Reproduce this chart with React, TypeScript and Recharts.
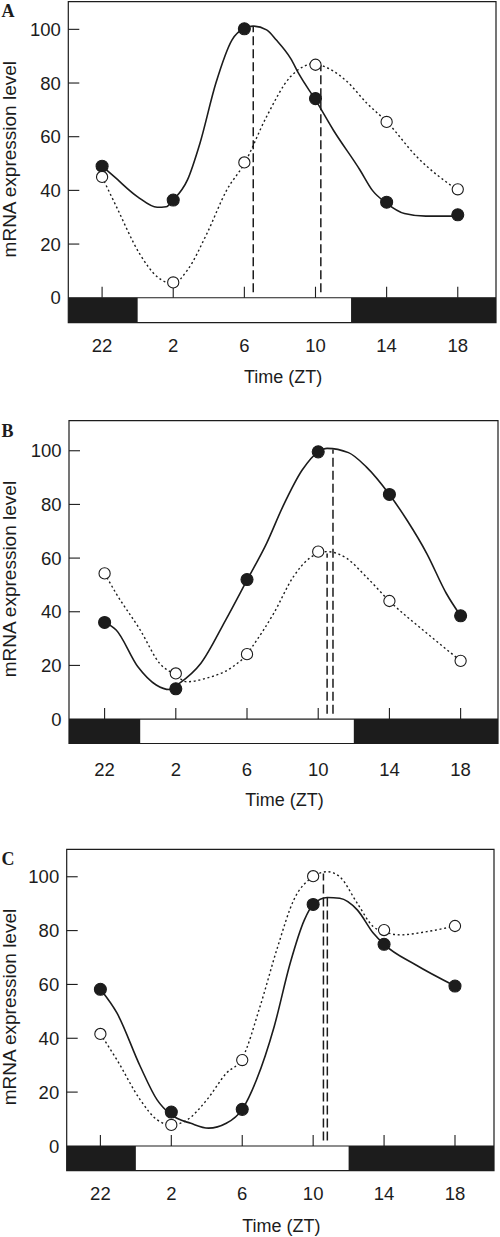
import React from 'react';
import { ComposedChart, Line, Scatter, XAxis, YAxis, ReferenceArea, ReferenceLine } from 'recharts';

const INK = '#1c1c1c';
const FONT = '"Liberation Sans", Arial, Helvetica, sans-serif';

// x is hours since ZT22 (samples taken every 4 h)
const sampleTimes = [0, 4, 8, 12, 16, 20];
const tickLabels = ['22', '2', '6', '10', '14', '18'];
const yTicks = [0, 20, 40, 60, 80, 100];
const lightsOn = 2; // ZT0
const lightsOff = 14; // ZT12

// panel A
const aFilled = [49, 36.4, 100.2, 74.2, 35.6, 30.9];
const aOpen = [45, 5.7, 50.4, 86.8, 65.5, 40.4];
const aSolidFit = [[0, 49], [0.7, 45], [2, 37.6], [3.1, 33.7], [3.6, 33.9], [4, 36.4], [4.8, 43.9], [5.5, 57.5], [6.4, 80], [7.3, 96], [8, 100.4], [8.5, 101.2], [9.25, 99.8], [9.8, 96], [10.6, 89.2], [11.1, 83], [12, 73.7], [13, 62.5], [14.5, 47.6], [15.2, 40], [16, 35.2], [17, 31.4], [18.2, 30.4], [20, 30.4]];
const aDottedFit = [[0, 45], [0.8, 34], [2.1, 16.5], [3.1, 7.8], [4, 5.3], [4.8, 10.3], [5.9, 24], [7, 40], [8, 50], [9.25, 67.5], [10.6, 82.4], [12, 87.3], [12.3, 86.7], [13.7, 81], [14.9, 72.4], [16, 65.6], [17.7, 52.5], [20, 40]];
const aPeaks = [[8.5, 101.2], [12.3, 86.7]];

// panel B
const bFilled = [36, 11.3, 52, 99.6, 83.7, 38.5];
const bOpen = [54.3, 17, 24.2, 62.4, 44, 21.7];
const bSolidFit = [[0, 36], [0.65, 33.2], [1.87, 19.5], [2.9, 12.7], [3.65, 11], [4.2, 13.3], [5.4, 20.7], [6.8, 36.9], [8, 51.8], [9.1, 65.5], [10, 79], [11.1, 92.8], [12, 99.6], [12.5, 100.9], [13.7, 99.3], [14.7, 94], [16, 83.7], [17, 74], [18.1, 61.7], [19.2, 46.8], [20, 38.5]];
const bDottedFit = [[0, 54.3], [0.65, 46.8], [2, 33.2], [3.1, 20.7], [4, 16.4], [4.6, 13.9], [5.7, 15.2], [7.2, 19.5], [8, 24.2], [8.3, 27], [9.5, 39.4], [10.6, 53], [11.5, 59.9], [12.5, 62.4], [13.6, 59.9], [14.7, 53], [16, 44], [18.1, 32], [20, 21.7]];
const bPeaks = [[12.83, 100.5], [12.5, 61.7]];

// panel C
const cFilled = [58.2, 12.6, 13.6, 89.7, 74.9, 59.4];
const cOpen = [41.6, 7.8, 31.9, 100.2, 80.2, 81.7];
const cSolidFit = [[0, 58.2], [0.94, 49.3], [2.25, 29.5], [3.2, 17.1], [4, 11.5], [5.1, 8.4], [6.1, 6.6], [7.1, 8.4], [8, 13.6], [8.8, 24.5], [9.8, 44.3], [10.7, 67.8], [11.5, 83.9], [12, 89.7], [12.8, 92.3], [13.5, 92], [14.5, 87.6], [15.4, 79], [16, 74.9], [17.8, 67.2], [20, 59.4]];
const cDottedFit = [[0, 41.6], [0.94, 31.9], [2.25, 17.1], [3.2, 9.7], [4, 7.8], [4.9, 9.7], [6, 17.1], [7.1, 27], [8, 32.5], [9, 51.7], [10, 74], [10.9, 91.3], [12, 100], [12.8, 101.9], [13.5, 100], [14.5, 90], [15.4, 81.4], [16, 79.6], [16.9, 78.4], [18.4, 79.6], [20, 81.7]];
const cPeaks = [[12.8, 92.3], [12.58, 101.2]];

const toPts = (pairs: number[][]) => pairs.map(([t, v]) => ({ t, v }));
const atSamples = (vals: number[]) => vals.map((v, i) => ({ t: sampleTimes[i], v }));

interface Layout {
  letter: string;
  top: number;
  height: number;
  plotTop: number;
  plotBottom: number;
  plotLeft: number;
  plotRight: number;
  xDomain: [number, number];
  yDomain: [number, number];
  tickGap: number;
  titleGap: number;
  letterY: number;
}

interface PanelProps {
  layout: Layout;
  filled: number[];
  open: number[];
  solidFit: number[][];
  dottedFit: number[][];
  peaks: number[][];
}

const Y_AXIS_W = 60;
const X_AXIS_H = 40;
const TICK_PX = 11;

const Panel: React.FC<PanelProps> = ({ layout, filled, open, solidFit, dottedFit, peaks }) => {
  const { top, height, plotTop, plotBottom, plotLeft, plotRight, xDomain, yDomain } = layout;
  // inward tick length, converted to data units for each axis
  const yTickLen = (TICK_PX * (yDomain[1] - yDomain[0])) / (plotBottom - plotTop);
  const xTickLen = (TICK_PX * (xDomain[1] - xDomain[0])) / (plotRight - plotLeft);

  const YTick = (p: any) => (
    <text x={p.x - 7.5} y={p.y} dy="0.36em" textAnchor="end" fontSize={18.5} fill={INK} fontFamily={FONT}>
      {p.payload.value}
    </text>
  );

  const XTick = (p: any) => (
    <text x={p.x} y={p.y + layout.tickGap} dy="0.36em" textAnchor="middle" fontSize={18.5} fill={INK} fontFamily={FONT}>
      {tickLabels[sampleTimes.indexOf(p.payload.value)]}
    </text>
  );

  const dot = (fill: string) => (p: any) => (
    <circle cx={p.cx} cy={p.cy} r={fill === 'white' ? 5.6 : 6} fill={fill} stroke={INK} strokeWidth={1.1} />
  );

  return (
    <div style={{ position: 'absolute', left: 0, top, width: 500, height }}>
      <ComposedChart
        width={500}
        height={height}
        margin={{
          top: plotTop - top,
          bottom: top + height - plotBottom - X_AXIS_H,
          left: plotLeft - Y_AXIS_W,
          right: 500 - plotRight,
        }}
      >
        <XAxis
          dataKey="t"
          type="number"
          domain={xDomain}
          allowDataOverflow
          ticks={sampleTimes}
          axisLine={false}
          tickLine={false}
          tickSize={0}
          tickMargin={0}
          height={X_AXIS_H}
          tick={XTick}
          interval={0}
        />
        <YAxis
          dataKey="v"
          type="number"
          domain={yDomain}
          allowDataOverflow
          ticks={yTicks}
          axisLine={false}
          tickLine={false}
          tickSize={0}
          tickMargin={0}
          width={Y_AXIS_W}
          tick={YTick}
          interval={0}
        />
        <ReferenceArea x1={xDomain[0]} x2={lightsOn} y1={yDomain[0]} y2={0} fill={INK} fillOpacity={1} stroke="none" />
        <ReferenceArea x1={lightsOff} x2={xDomain[1]} y1={yDomain[0]} y2={0} fill={INK} fillOpacity={1} stroke="none" />
        <ReferenceLine y={0} stroke={INK} strokeWidth={1.1} />
        <ReferenceArea x1={xDomain[0]} x2={xDomain[1]} y1={yDomain[0]} y2={yDomain[1]} fill="none" stroke={INK} strokeWidth={1.2} />
        {sampleTimes.map((t) => (
          <ReferenceLine key={'xt' + t} segment={[{ x: t, y: 0 }, { x: t, y: yTickLen }]} stroke={INK} strokeWidth={1.1} />
        ))}
        {yTicks.filter((v) => v > 0).map((v) => (
          <ReferenceLine key={'yt' + v} segment={[{ x: xDomain[0], y: v }, { x: xDomain[0] + xTickLen, y: v }]} stroke={INK} strokeWidth={1.1} />
        ))}
        {peaks.map(([t, v]) => (
          <ReferenceLine key={'pk' + t} segment={[{ x: t, y: 2 }, { x: t, y: v }]} stroke={INK} strokeWidth={1.5} strokeDasharray="9 4" />
        ))}
        <Line data={toPts(solidFit)} dataKey="v" type="monotone" stroke={INK} strokeWidth={1.6} dot={false} activeDot={false} isAnimationActive={false} />
        <Line data={toPts(dottedFit)} dataKey="v" type="monotone" stroke={INK} strokeWidth={1.4} strokeDasharray="2 2.7" dot={false} activeDot={false} isAnimationActive={false} />
        <Scatter data={atSamples(filled)} dataKey="v" shape={dot(INK)} isAnimationActive={false} />
        <Scatter data={atSamples(open)} dataKey="v" shape={dot('white')} isAnimationActive={false} />
      </ComposedChart>
      <svg width={500} height={height} style={{ position: 'absolute', left: 0, top: 0, pointerEvents: 'none' }}>
        <text x={1.5} y={layout.letterY - top} fontSize={18} fontWeight="bold" fontFamily='"Liberation Serif", "DejaVu Serif", serif' fill={INK}>
          {layout.letter}
        </text>
        <text
          transform={`translate(16, ${(plotTop + plotBottom) / 2 - top - 3}) rotate(-90)`}
          textAnchor="middle"
          fontSize={19}
          fill={INK}
          fontFamily={FONT}
        >
          mRNA expression level
        </text>
        <text
          x={(plotLeft + plotRight) / 2 + 1}
          y={plotBottom - top + layout.titleGap}
          dy="0.36em"
          textAnchor="middle"
          fontSize={18}
          fill={INK}
          fontFamily={FONT}
        >
          Time (ZT)
        </text>
      </svg>
    </div>
  );
};

const layoutA: Layout = {
  letter: 'A', top: 0, height: 400, plotTop: 1.7, plotBottom: 322.7, plotLeft: 68.3, plotRight: 496,
  xDomain: [-1.9, 22.15], yDomain: [-9.3, 110.3], tickGap: 22.5, titleGap: 53.5, letterY: 17,
};
const layoutB: Layout = {
  letter: 'B', top: 400, height: 420, plotTop: 420.7, plotBottom: 743.5, plotLeft: 69, plotRight: 498,
  xDomain: [-2, 22.1], yDomain: [-9.1, 111.2], tickGap: 25.5, titleGap: 56.5, letterY: 436.7,
};
const layoutC: Layout = {
  letter: 'C', top: 820, height: 417, plotTop: 849.3, plotBottom: 1170.7, plotLeft: 66.7, plotRight: 494,
  xDomain: [-1.9, 22.2], yDomain: [-9.2, 110.2], tickGap: 22.5, titleGap: 55, letterY: 865,
};

export default function App() {
  return (
    <div style={{ position: 'absolute', left: 0, top: 0, width: 500, height: 1237, background: 'white' }}>
      <Panel layout={layoutA} filled={aFilled} open={aOpen} solidFit={aSolidFit} dottedFit={aDottedFit} peaks={aPeaks} />
      <Panel layout={layoutB} filled={bFilled} open={bOpen} solidFit={bSolidFit} dottedFit={bDottedFit} peaks={bPeaks} />
      <Panel layout={layoutC} filled={cFilled} open={cOpen} solidFit={cSolidFit} dottedFit={cDottedFit} peaks={cPeaks} />
    </div>
  );
}
